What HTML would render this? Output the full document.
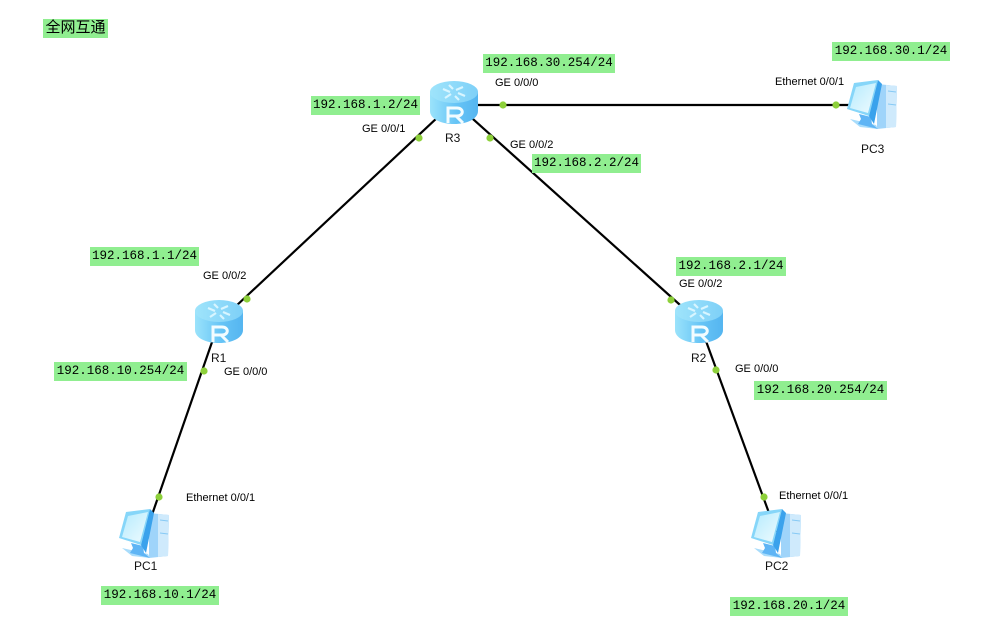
<!DOCTYPE html>
<html>
<head>
<meta charset="utf-8">
<style>
html,body{margin:0;padding:0;background:#fff;}
#c{position:relative;width:981px;height:635px;overflow:hidden;background:#fff;}
svg{position:absolute;left:0;top:0;}
.g{position:absolute;background:#90ee90;font:12.5px/19px "Liberation Mono","Noto Sans CJK SC",monospace;color:#000;white-space:pre;text-align:center;height:19px;}
.t{position:absolute;font:11px/12px "Liberation Sans",sans-serif;color:#000;white-space:pre;}
.n{position:absolute;font:12px/13px "Liberation Sans",sans-serif;color:#111;white-space:pre;}
</style>
</head>
<body>
<div id="c">
<svg width="981" height="635" viewBox="0 0 981 635">
<defs>
<linearGradient id="rs" x1="0" x2="1" y1="0" y2="0">
<stop offset="0" stop-color="#9be3fb"/><stop offset=".55" stop-color="#66c4f6"/><stop offset="1" stop-color="#55b5f0"/>
</linearGradient>
<linearGradient id="rt" x1="0" x2="1" y1="0" y2="0">
<stop offset="0" stop-color="#9fe4fb"/><stop offset="1" stop-color="#7ed0f8"/>
</linearGradient>
<linearGradient id="sc" x1="0" x2="1" y1="0" y2="1">
<stop offset="0" stop-color="#b5ebfd"/><stop offset="1" stop-color="#effbff"/>
</linearGradient>
<g id="router">
<path d="M0 11V30C0 38 11 43 24 43S48 38 48 30V11Z" fill="url(#rs)"/>
<ellipse cx="24" cy="11" rx="24" ry="11" fill="url(#rt)"/>
<path d="M13 8l7 3M35 15l-7-3M19 4l4 4M29 19l-4-4M33 6l-7 3M15 17l6-4" stroke="#d8f5ff" stroke-width="2.2" fill="none"/>
<path d="M18 42V27H27C34 27 34 35 27 35H19M26 35L33 42" stroke="#f2fcff" stroke-width="3" fill="none"/>
</g>
<g id="pc">
<path d="M30 6L50 8L49 49L30 51Z" fill="#9fd4fa"/>
<path d="M39 7L50 8L49 49L39 50Z" fill="#cfeafc"/>
<path d="M41 13L49 14M41 26L49 27" stroke="#86c9f5" stroke-width="1"/>
<path d="M3 41L29 47L31 51L13 49Z" fill="#a8dcfb"/>
<path d="M12 36L24 39L25 46L31 51L11 46L14 41Z" fill="#5fb5f5"/>
<path d="M7 5L31 2L22 38L0 31Z" fill="#86d6f9"/>
<path d="M9 9L29 5L21 35L3 30Z" fill="url(#sc)"/>
<path d="M31 2L35 6L27 46L22 38Z" fill="#3aa2ec"/>
</g>
</defs>
<g stroke="#000" stroke-width="2.2" fill="none">
<line x1="454" y1="105" x2="866" y2="105"/>
<line x1="454" y1="102" x2="699" y2="322"/>
<line x1="454" y1="102" x2="219" y2="322"/>
<line x1="219" y1="322" x2="146" y2="532"/>
<line x1="699" y1="322" x2="776" y2="532"/>
</g>
<use href="#router" x="430" y="81"/>
<use href="#router" x="195" y="300"/>
<use href="#router" x="675" y="300"/>
<use href="#pc" x="847" y="78"/>
<use href="#pc" x="119" y="507"/>
<use href="#pc" x="751" y="507"/>
<g fill="#8dd03a">
<circle cx="503" cy="105" r="3.6"/>
<circle cx="836" cy="105" r="3.6"/>
<circle cx="419" cy="138" r="3.6"/>
<circle cx="490" cy="138" r="3.6"/>
<circle cx="247" cy="299" r="3.6"/>
<circle cx="671" cy="300" r="3.6"/>
<circle cx="204" cy="371" r="3.6"/>
<circle cx="716" cy="370" r="3.6"/>
<circle cx="159" cy="497" r="3.6"/>
<circle cx="764" cy="497" r="3.6"/>
</g>
</svg>

<div class="g" style="left:43px;top:19px;width:65px;font-size:15px;">全网互通</div>
<div class="g" style="left:483px;top:54px;width:132px;">192.168.30.254/24</div>
<div class="g" style="left:832px;top:42px;width:118px;">192.168.30.1/24</div>
<div class="g" style="left:311px;top:96px;width:109px;">192.168.1.2/24</div>
<div class="g" style="left:532px;top:154px;width:109px;">192.168.2.2/24</div>
<div class="g" style="left:90px;top:247px;width:109px;">192.168.1.1/24</div>
<div class="g" style="left:676px;top:257px;width:110px;">192.168.2.1/24</div>
<div class="g" style="left:54px;top:362px;width:133px;">192.168.10.254/24</div>
<div class="g" style="left:754px;top:381px;width:133px;">192.168.20.254/24</div>
<div class="g" style="left:101px;top:586px;width:118px;">192.168.10.1/24</div>
<div class="g" style="left:730px;top:597px;width:118px;">192.168.20.1/24</div>

<div class="t" style="left:495px;top:77px;">GE 0/0/0</div>
<div class="t" style="left:775px;top:76px;">Ethernet 0/0/1</div>
<div class="t" style="left:362px;top:123px;">GE 0/0/1</div>
<div class="t" style="left:510px;top:139px;">GE 0/0/2</div>
<div class="t" style="left:203px;top:270px;">GE 0/0/2</div>
<div class="t" style="left:679px;top:278px;">GE 0/0/2</div>
<div class="t" style="left:224px;top:366px;">GE 0/0/0</div>
<div class="t" style="left:735px;top:363px;">GE 0/0/0</div>
<div class="t" style="left:186px;top:492px;">Ethernet 0/0/1</div>
<div class="t" style="left:779px;top:490px;">Ethernet 0/0/1</div>

<div class="n" style="left:445px;top:132px;">R3</div>
<div class="n" style="left:211px;top:352px;">R1</div>
<div class="n" style="left:691px;top:352px;">R2</div>
<div class="n" style="left:861px;top:143px;">PC3</div>
<div class="n" style="left:134px;top:560px;">PC1</div>
<div class="n" style="left:765px;top:560px;">PC2</div>
</div>
</body>
</html>
